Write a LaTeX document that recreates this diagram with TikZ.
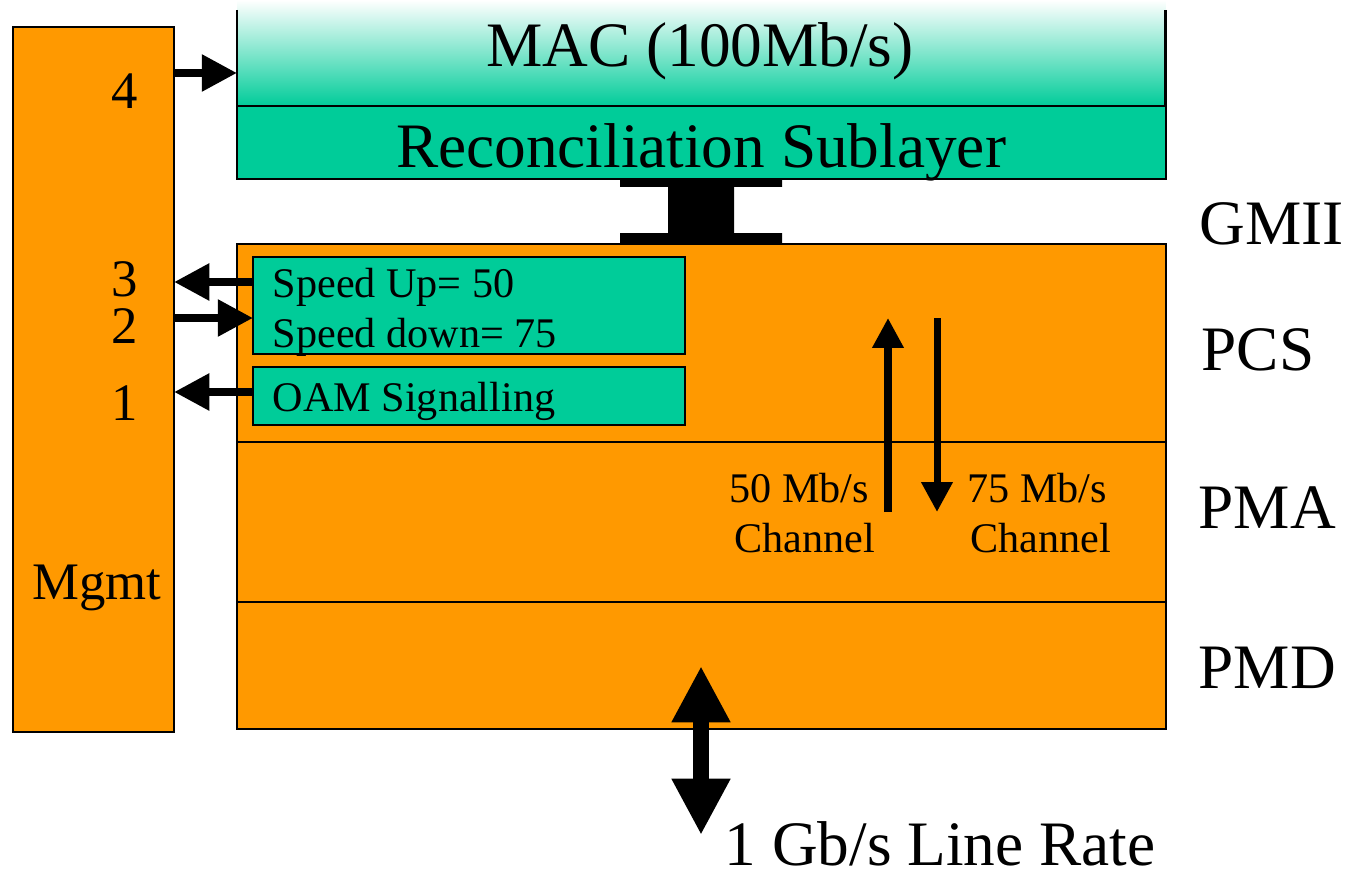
\documentclass[tikz,border=0pt]{standalone}
\usepackage{fontspec}
\setmainfont{Liberation Serif}
\usetikzlibrary{arrows.meta,calc}

\definecolor{layerorange}{RGB}{255,153,0}
\definecolor{layerteal}{RGB}{0,204,153}

\tikzset{
  box/.style={rectangle, anchor=north west, inner sep=0pt, outer sep=0pt, draw=black, line width=0.6pt},
  orangebox/.style={box, fill=layerorange},
  tealbox/.style={box, fill=layerteal},
  bigtext/.style={font=\fontsize{18}{20}\selectfont, inner sep=0pt},
  midtext/.style={font=\fontsize{15}{17}\selectfont, inner sep=0pt},
  smalltext/.style={font=\fontsize{12}{14}\selectfont, inner sep=0pt},
  sidearrow/.style={line width=2.3pt, -{Triangle[length=10pt,width=10pt]}},
  chanarrow/.style={line width=2pt, -{Triangle[length=8.5pt,width=8.5pt]}},
  linkarrow/.style={line width=4.6pt, {Triangle[length=16pt,width=15.6pt]}-{Triangle[length=16pt,width=15.6pt]}},
}

\begin{document}
\begin{tikzpicture}[x=0.01cm, y=-0.01cm]
\useasboundingbox (0,0) rectangle (1349,870);

% management block
\node[orangebox, minimum width=1.61cm, minimum height=7.05cm] (mgmt) at (13,27) {};

% MAC with fading fill and open top
\node[rectangle, anchor=north west, inner sep=0pt, outer sep=0pt,
      minimum width=9.28cm, minimum height=1.06cm,
      top color=white, bottom color=layerteal, shading angle=0] (mac) at (237,0) {};
\draw[line width=0.8pt] (mac.west |- 0,10) -- (mac.south west);
\draw[line width=0.8pt] (mac.east |- 0,10) -- (mac.south east);

% reconciliation sublayer
\node[tealbox, minimum width=9.28cm, minimum height=0.73cm] (rs) at (237,106) {};

% PHY stack (PCS / PMA / PMD)
\node[orangebox, minimum width=9.28cm, minimum height=4.85cm] (phy) at (237,244) {};
\draw[line width=0.45pt] (phy.west |- 0,442) -- (phy.east |- 0,442);
\draw[line width=0.45pt] (phy.west |- 0,602) -- (phy.east |- 0,602);

% GMII connector (I-beam between RS and PHY)
\fill[black] (620,180) -- (782,180) -- (782,187) -- (734,187) -- (734,233)
  -- (782,233) -- (782,244) -- (620,244) -- (620,233) -- (668,233)
  -- (668,187) -- (620,187) -- cycle;

% PCS sub-blocks
\node[tealbox, minimum width=4.32cm, minimum height=0.97cm] (speed) at (253,257) {};
\node[tealbox, minimum width=4.32cm, minimum height=0.58cm] (oam) at (253,367) {};

% management arrows
\coordinate (y4) at (0,73);
\coordinate (y3) at (0,282);
\coordinate (y2) at (0,318);
\coordinate (y1) at (0,392);
\draw[sidearrow] (mgmt.east |- y4) -- (mac.west |- y4);
\draw[sidearrow] (speed.west |- y3) -- (mgmt.east |- y3);
\draw[sidearrow] (mgmt.east |- y2) -- (speed.west |- y2);
\draw[sidearrow] (oam.west |- y1) -- (mgmt.east |- y1);

% channel arrows
\coordinate (upfrom) at (888,512);
\coordinate (upto) at (888,318);
\coordinate (downfrom) at (937,318);
\coordinate (downto) at (937,512);
\draw[chanarrow] (upfrom) -- (upto);
\draw[chanarrow] (downfrom) -- (downto);

% line-side arrow
\coordinate (linetop) at (701,666);
\coordinate (linebot) at (701,835);
\draw[linkarrow] (linetop) -- (linebot);

% texts
\node[bigtext, anchor=base] (tmac) at (700,67) {MAC (100Mb/s)};
\node[bigtext, anchor=base] (trs) at (701,167) {Reconciliation Sublayer};
\node[bigtext, anchor=base west] (tgmii) at (1199,245) {GMII};
\node[bigtext, anchor=base west] (tpcs) at (1201,370) {PCS};
\node[bigtext, anchor=base west] (tpma) at (1198,528) {PMA};
\node[bigtext, anchor=base west] (tpmd) at (1198,688) {PMD};
\node[bigtext, anchor=base west] (trate) at (724,865) {1 Gb/s Line Rate};

\node[midtext, anchor=base] (n4) at (125,109) {4};
\node[midtext, anchor=base] (n3) at (125,296) {3};
\node[midtext, anchor=base] (n2) at (125,343) {2};
\node[midtext, anchor=base] (n1) at (125,420) {1};
\node[midtext, anchor=base] (tmgmt) at (97,599) {Mgmt};

\node[smalltext, anchor=base west] (tup) at (272,297) {Speed Up= 50};
\node[smalltext, anchor=base west] (tdown) at (272,347) {Speed down= 75};
\node[smalltext, anchor=base west] (toam) at (272,411) {OAM Signalling};

\node[smalltext, anchor=base] (t50) at (799,502) {50 Mb/s};
\node[smalltext, anchor=base] (tch1) at (805,552) {Channel};
\node[smalltext, anchor=base] (t75) at (1037,502) {75 Mb/s};
\node[smalltext, anchor=base] (tch2) at (1041,552) {Channel};
\end{tikzpicture}
\end{document}
